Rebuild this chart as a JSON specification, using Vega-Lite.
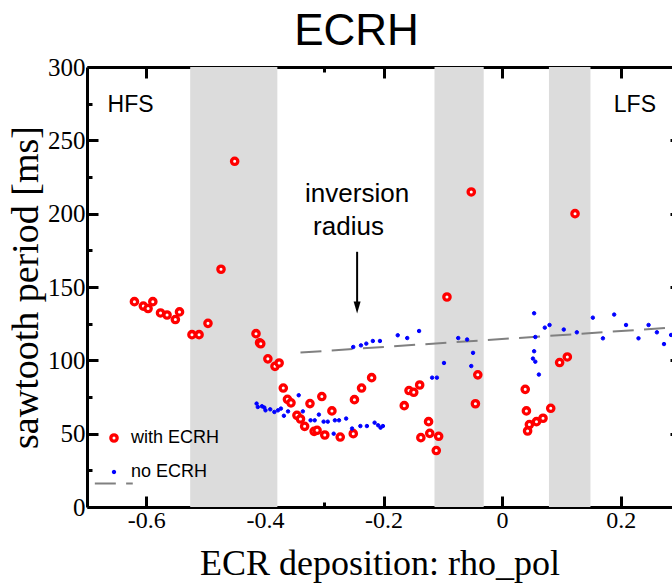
{
  "$schema": "https://vega.github.io/schema/vega-lite/v6.json",
  "width": 585,
  "height": 440,
  "autosize": {"type": "none"},
  "padding": {"left": 87, "top": 67, "right": 0, "bottom": 77},
  "background": "white",
  "title": {"text": "ECRH", "font": "Liberation Sans", "fontSize": 44, "fontWeight": "normal", "color": "black", "anchor": "middle", "dx": -23, "dy": 51, "offset": 17, "baseline": "alphabetic"},
  "config": {
    "view": {"stroke": null},
    "axis": {"domainColor": "black", "tickColor": "black", "domainWidth": 3, "tickWidth": 3, "grid": false, "labelColor": "black", "titleColor": "black", "zindex": 1}
  },
  "datasets": {
    "bands": [
      {"x0": -0.526, "x1": -0.379},
      {"x0": -0.114, "x1": -0.031},
      {"x0": 0.079, "x1": 0.149}
    ],
    "fit": [
      {"rho": -0.340, "period": 105.3},
      {"rho": 0.2865, "period": 122.3}
    ],
    "points": [
      {"series": "with ECRH", "rho": -0.620, "period": 140.0},
      {"series": "with ECRH", "rho": -0.605, "period": 137.0},
      {"series": "with ECRH", "rho": -0.597, "period": 135.3},
      {"series": "with ECRH", "rho": -0.589, "period": 140.0},
      {"series": "with ECRH", "rho": -0.576, "period": 132.3},
      {"series": "with ECRH", "rho": -0.565, "period": 130.9},
      {"series": "with ECRH", "rho": -0.551, "period": 127.8},
      {"series": "with ECRH", "rho": -0.544, "period": 133.0},
      {"series": "with ECRH", "rho": -0.523, "period": 117.5},
      {"series": "with ECRH", "rho": -0.511, "period": 117.5},
      {"series": "with ECRH", "rho": -0.496, "period": 125.2},
      {"series": "with ECRH", "rho": -0.474, "period": 162.1},
      {"series": "with ECRH", "rho": -0.451, "period": 235.7},
      {"series": "with ECRH", "rho": -0.415, "period": 118.2},
      {"series": "with ECRH", "rho": -0.409, "period": 112.0},
      {"series": "with ECRH", "rho": -0.407, "period": 111.3},
      {"series": "with ECRH", "rho": -0.395, "period": 101.0},
      {"series": "with ECRH", "rho": -0.383, "period": 95.9},
      {"series": "with ECRH", "rho": -0.376, "period": 98.2},
      {"series": "with ECRH", "rho": -0.369, "period": 81.1},
      {"series": "with ECRH", "rho": -0.362, "period": 73.4},
      {"series": "with ECRH", "rho": -0.356, "period": 71.0},
      {"series": "with ECRH", "rho": -0.346, "period": 62.5},
      {"series": "with ECRH", "rho": -0.340, "period": 60.0},
      {"series": "with ECRH", "rho": -0.333, "period": 55.0},
      {"series": "with ECRH", "rho": -0.324, "period": 70.5},
      {"series": "with ECRH", "rho": -0.317, "period": 51.6},
      {"series": "with ECRH", "rho": -0.312, "period": 52.3},
      {"series": "with ECRH", "rho": -0.304, "period": 75.3},
      {"series": "with ECRH", "rho": -0.299, "period": 49.1},
      {"series": "with ECRH", "rho": -0.287, "period": 65.5},
      {"series": "with ECRH", "rho": -0.273, "period": 47.7},
      {"series": "with ECRH", "rho": -0.251, "period": 50.0},
      {"series": "with ECRH", "rho": -0.249, "period": 73.2},
      {"series": "with ECRH", "rho": -0.237, "period": 81.1},
      {"series": "with ECRH", "rho": -0.220, "period": 88.2},
      {"series": "with ECRH", "rho": -0.165, "period": 69.1},
      {"series": "with ECRH", "rho": -0.157, "period": 79.4},
      {"series": "with ECRH", "rho": -0.149, "period": 78.2},
      {"series": "with ECRH", "rho": -0.139, "period": 83.2},
      {"series": "with ECRH", "rho": -0.124, "period": 58.2},
      {"series": "with ECRH", "rho": -0.137, "period": 47.3},
      {"series": "with ECRH", "rho": -0.122, "period": 50.2},
      {"series": "with ECRH", "rho": -0.107, "period": 48.2},
      {"series": "with ECRH", "rho": -0.111, "period": 38.5},
      {"series": "with ECRH", "rho": -0.093, "period": 143.2},
      {"series": "with ECRH", "rho": -0.052, "period": 214.8},
      {"series": "with ECRH", "rho": -0.041, "period": 90.1},
      {"series": "with ECRH", "rho": -0.045, "period": 70.4},
      {"series": "with ECRH", "rho": 0.039, "period": 80.2},
      {"series": "with ECRH", "rho": 0.041, "period": 65.5},
      {"series": "with ECRH", "rho": 0.046, "period": 56.2},
      {"series": "with ECRH", "rho": 0.043, "period": 51.8},
      {"series": "with ECRH", "rho": 0.058, "period": 58.2},
      {"series": "with ECRH", "rho": 0.069, "period": 60.5},
      {"series": "with ECRH", "rho": 0.082, "period": 67.3},
      {"series": "with ECRH", "rho": 0.097, "period": 98.5},
      {"series": "with ECRH", "rho": 0.110, "period": 102.3},
      {"series": "with ECRH", "rho": 0.123, "period": 200.0},
      {"series": "no ECRH", "rho": -0.414, "period": 70.5},
      {"series": "no ECRH", "rho": -0.412, "period": 68.2},
      {"series": "no ECRH", "rho": -0.405, "period": 68.7},
      {"series": "no ECRH", "rho": -0.401, "period": 67.8},
      {"series": "no ECRH", "rho": -0.399, "period": 65.9},
      {"series": "no ECRH", "rho": -0.391, "period": 66.6},
      {"series": "no ECRH", "rho": -0.384, "period": 64.8},
      {"series": "no ECRH", "rho": -0.378, "period": 65.9},
      {"series": "no ECRH", "rho": -0.373, "period": 67.1},
      {"series": "no ECRH", "rho": -0.368, "period": 62.2},
      {"series": "no ECRH", "rho": -0.361, "period": 65.2},
      {"series": "no ECRH", "rho": -0.343, "period": 76.2},
      {"series": "no ECRH", "rho": -0.336, "period": 65.2},
      {"series": "no ECRH", "rho": -0.323, "period": 59.1},
      {"series": "no ECRH", "rho": -0.316, "period": 59.1},
      {"series": "no ECRH", "rho": -0.309, "period": 63.0},
      {"series": "no ECRH", "rho": -0.301, "period": 58.2},
      {"series": "no ECRH", "rho": -0.294, "period": 58.2},
      {"series": "no ECRH", "rho": -0.282, "period": 59.1},
      {"series": "no ECRH", "rho": -0.275, "period": 59.1},
      {"series": "no ECRH", "rho": -0.263, "period": 60.3},
      {"series": "no ECRH", "rho": -0.284, "period": 50.0},
      {"series": "no ECRH", "rho": -0.253, "period": 53.5},
      {"series": "no ECRH", "rho": -0.239, "period": 55.2},
      {"series": "no ECRH", "rho": -0.228, "period": 55.2},
      {"series": "no ECRH", "rho": -0.215, "period": 57.5},
      {"series": "no ECRH", "rho": -0.209, "period": 55.7},
      {"series": "no ECRH", "rho": -0.205, "period": 54.1},
      {"series": "no ECRH", "rho": -0.201, "period": 55.2},
      {"series": "no ECRH", "rho": -0.251, "period": 109.1},
      {"series": "no ECRH", "rho": -0.238, "period": 110.2},
      {"series": "no ECRH", "rho": -0.229, "period": 111.4},
      {"series": "no ECRH", "rho": -0.218, "period": 113.2},
      {"series": "no ECRH", "rho": -0.206, "period": 113.2},
      {"series": "no ECRH", "rho": -0.176, "period": 117.1},
      {"series": "no ECRH", "rho": -0.160, "period": 115.2},
      {"series": "no ECRH", "rho": -0.140, "period": 120.0},
      {"series": "no ECRH", "rho": -0.118, "period": 88.2},
      {"series": "no ECRH", "rho": -0.110, "period": 88.2},
      {"series": "no ECRH", "rho": -0.098, "period": 98.2},
      {"series": "no ECRH", "rho": -0.074, "period": 115.2},
      {"series": "no ECRH", "rho": -0.059, "period": 114.2},
      {"series": "no ECRH", "rho": -0.049, "period": 105.1},
      {"series": "no ECRH", "rho": -0.052, "period": 96.1},
      {"series": "no ECRH", "rho": 0.054, "period": 132.1},
      {"series": "no ECRH", "rho": 0.072, "period": 122.3},
      {"series": "no ECRH", "rho": 0.080, "period": 124.1},
      {"series": "no ECRH", "rho": 0.104, "period": 121.0},
      {"series": "no ECRH", "rho": 0.126, "period": 119.1},
      {"series": "no ECRH", "rho": 0.153, "period": 129.1},
      {"series": "no ECRH", "rho": 0.170, "period": 115.0},
      {"series": "no ECRH", "rho": 0.189, "period": 131.2},
      {"series": "no ECRH", "rho": 0.209, "period": 124.1},
      {"series": "no ECRH", "rho": 0.230, "period": 115.0},
      {"series": "no ECRH", "rho": 0.247, "period": 124.1},
      {"series": "no ECRH", "rho": 0.261, "period": 119.1},
      {"series": "no ECRH", "rho": 0.273, "period": 111.1},
      {"series": "no ECRH", "rho": 0.285, "period": 117.3},
      {"series": "no ECRH", "rho": 0.056, "period": 115.9},
      {"series": "no ECRH", "rho": 0.054, "period": 106.2},
      {"series": "no ECRH", "rho": 0.052, "period": 101.2},
      {"series": "no ECRH", "rho": 0.056, "period": 99.1},
      {"series": "no ECRH", "rho": 0.062, "period": 90.3}
    ]
  },
  "layer": [
    {
      "data": {"name": "bands"},
      "mark": {"type": "rect", "color": "#dcdcdc"},
      "encoding": {
        "x": {
          "field": "x0", "type": "quantitative",
          "scale": {"domain": [-0.7, 0.2865], "nice": false, "zero": false},
          "axis": {
            "orient": "top", "title": null, "labels": false,
            "values": [-0.6, -0.5, -0.4, -0.3, -0.2, -0.1, 0, 0.1, 0.2],
            "tickSize": {"condition": {"test": "round(datum.value*10) % 2 == 0", "value": -11}, "value": -5}
          }
        },
        "x2": {"field": "x1"}
      }
    },
    {
      "data": {"name": "fit"},
      "mark": {"type": "line", "color": "#808080", "strokeWidth": 2, "strokeDash": [21, 10.3]},
      "encoding": {
        "x": {"field": "rho", "type": "quantitative", "axis": null},
        "y": {
          "field": "period", "type": "quantitative",
          "axis": {"orient": "right", "title": null, "labels": false, "domain": false, "values": [50, 100, 150, 200, 250], "tickSize": -2}
        }
      }
    },
    {
      "data": {"name": "points"},
      "mark": {"type": "point", "filled": false, "opacity": 1, "clip": true},
      "encoding": {
        "x": {
          "field": "rho", "type": "quantitative",
          "axis": {
            "orient": "bottom",
            "title": "ECR deposition: rho_pol",
            "titleFont": "Liberation Serif", "titleFontSize": 36, "titleFontWeight": "normal", "titlePadding": 14,
            "values": [-0.6, -0.5, -0.4, -0.3, -0.2, -0.1, 0, 0.1, 0.2],
            "format": ".1~f",
            "labelExpr": "round(datum.value*10) % 2 == 0 ? replace(datum.label, '\u2212', '-') : ''",
            "labelFont": "Liberation Serif", "labelFontSize": 24, "labelPadding": 12,
            "tickSize": {"condition": {"test": "round(datum.value*10) % 2 == 0", "value": -11}, "value": -5}
          }
        },
        "y": {
          "field": "period", "type": "quantitative",
          "scale": {"domain": [0, 300], "nice": false, "zero": true},
          "axis": {
            "orient": "left",
            "title": "sawtooth period [ms]",
            "titleFont": "Liberation Serif", "titleFontSize": 38, "titleFontWeight": "normal", "titlePadding": 2,
            "values": [0, 25, 50, 75, 100, 125, 150, 175, 200, 225, 250, 275, 300],
            "labelExpr": "datum.value % 50 == 0 ? datum.label : ''",
            "labelFont": "Liberation Serif", "labelFontSize": 25, "labelPadding": 13,
            "tickSize": {"condition": {"test": "datum.value % 50 == 0", "value": -11}, "value": -5}
          }
        },
        "stroke": {
          "field": "series", "type": "nominal",
          "scale": {"domain": ["with ECRH", "no ECRH"], "range": ["#ff0000", "#0000ff"]},
          "legend": {
            "orient": "none", "legendX": 18, "legendY": 362, "title": null, "padding": 0,
            "labelFont": "Liberation Sans", "labelFontSize": 18, "labelColor": "black",
            "labelOffset": 8, "rowPadding": 15, "symbolOpacity": 1
          }
        },
        "fill": {
          "field": "series", "type": "nominal",
          "scale": {"domain": ["with ECRH", "no ECRH"], "range": ["#ffffff", "#0000ff"]}
        },
        "size": {
          "field": "series", "type": "nominal",
          "scale": {"domain": ["with ECRH", "no ECRH"], "range": [40, 12]}
        },
        "strokeWidth": {
          "field": "series", "type": "nominal",
          "scale": {"domain": ["with ECRH", "no ECRH"], "range": [3.3, 1]}
        }
      }
    },
    {
      "data": {"values": [{}]},
      "mark": {"type": "rule", "color": "#808080", "strokeWidth": 2, "strokeDash": [21, 10.3]},
      "encoding": {
        "x": {"datum": -0.6868, "type": "quantitative", "axis": null},
        "x2": {"datum": -0.6228},
        "y": {"datum": 16, "type": "quantitative", "axis": null}
      }
    },
    {
      "data": {"values": [{}]},
      "mark": {"type": "text", "text": "HFS", "font": "Liberation Sans", "fontSize": 23, "align": "left", "baseline": "alphabetic", "color": "black"},
      "encoding": {
        "x": {"datum": -0.6654, "type": "quantitative", "axis": null},
        "y": {"datum": 269.3, "type": "quantitative", "axis": null}
      }
    },
    {
      "data": {"values": [{}]},
      "mark": {"type": "text", "text": "LFS", "font": "Liberation Sans", "fontSize": 23, "align": "left", "baseline": "alphabetic", "color": "black"},
      "encoding": {
        "x": {"datum": 0.1884, "type": "quantitative", "axis": null},
        "y": {"datum": 269.3, "type": "quantitative", "axis": null}
      }
    },
    {
      "data": {"values": [{}]},
      "mark": {"type": "text", "text": "inversion", "font": "Liberation Sans", "fontSize": 26, "align": "center", "baseline": "alphabetic", "color": "black"},
      "encoding": {
        "x": {"datum": -0.2445, "type": "quantitative", "axis": null},
        "y": {"datum": 208.0, "type": "quantitative", "axis": null}
      }
    },
    {
      "data": {"values": [{}]},
      "mark": {"type": "text", "text": "radius", "font": "Liberation Sans", "fontSize": 26, "align": "center", "baseline": "alphabetic", "color": "black"},
      "encoding": {
        "x": {"datum": -0.259, "type": "quantitative", "axis": null},
        "y": {"datum": 185.2, "type": "quantitative", "axis": null}
      }
    },
    {
      "data": {"values": [{}]},
      "mark": {"type": "rule", "color": "black", "strokeWidth": 2},
      "encoding": {
        "x": {"datum": -0.2445, "type": "quantitative", "axis": null},
        "y": {"datum": 174.0, "type": "quantitative", "axis": null},
        "y2": {"datum": 138.0}
      }
    },
    {
      "data": {"values": [{}]},
      "mark": {"type": "point", "shape": "M-0.58,-1L0.58,-1L0,1Z", "filled": true, "color": "black", "opacity": 1, "size": 144},
      "encoding": {
        "x": {"datum": -0.2445, "type": "quantitative", "axis": null},
        "y": {"datum": 136.0, "type": "quantitative", "axis": null}
      }
    }
  ],
  "resolve": {"axis": {"x": "independent", "y": "independent"}}
}
